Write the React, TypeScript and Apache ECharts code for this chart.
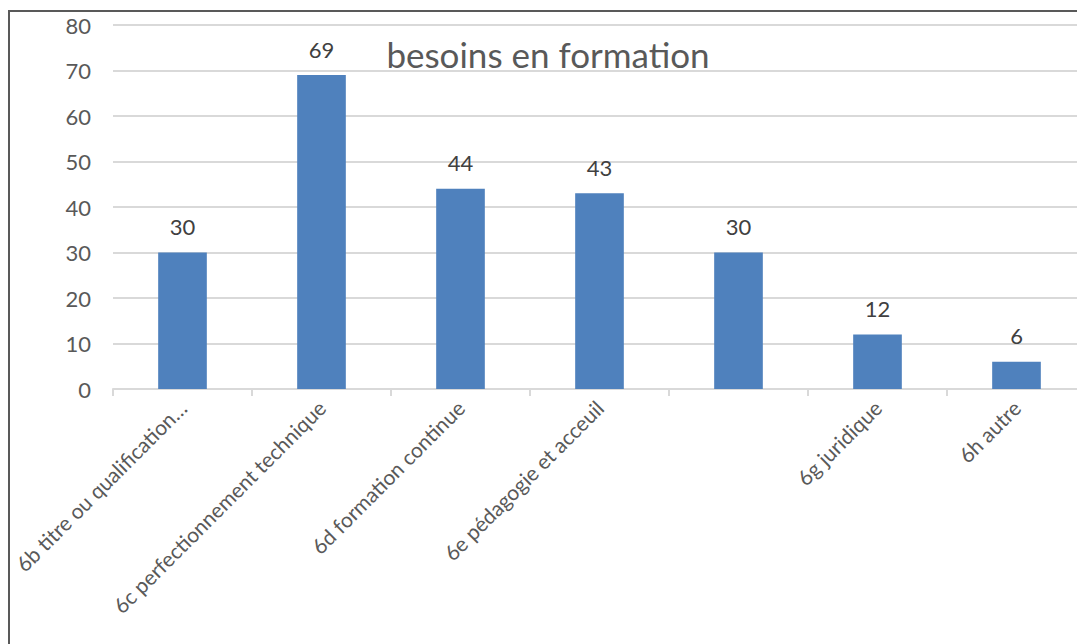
import React, { useEffect, useRef } from "react";
import * as echarts from "echarts";

const titleText = "besoins en formation";
const categories = [
  "6b titre ou qualification…",
  "6c perfectionnement technique",
  "6d formation continue",
  "6e pédagogie et acceuil",
  "",
  "6g juridique",
  "6h autre",
];
const values = [30, 69, 44, 43, 30, 12, 6];
const yTicks = { min: 0, max: 80, interval: 10 };

const FONT = "Lato, 'Noto Sans', sans-serif";

export default function App() {
  const ref = useRef<HTMLDivElement>(null);
  useEffect(() => {
    document.body.style.overflow = "hidden";
    const chart = echarts.init(ref.current!, null, { renderer: "svg" });
    chart.setOption({
      animation: false,
      textStyle: { fontFamily: FONT },
      graphic: [
        {
          type: "text",
          x: 538,
          y: 42,
          style: {
            text: titleText,
            fontFamily: FONT,
            fontSize: 35,
            fill: "#595959",
            align: "center",
            verticalAlign: "middle",
          },
          z: 100,
        },
      ],
      grid: {
        left: 103,
        top: 13,
        right: 24,
        bottom: 283,
        containLabel: false,
        outerBoundsMode: "none",
      },
      xAxis: {
        type: "category",
        data: categories,
        axisLine: { lineStyle: { color: "#d9d9d9", width: 2 } },
        axisTick: { show: true, length: 7, lineStyle: { color: "#d9d9d9", width: 2 } },
        axisLabel: {
          rotate: 45,
          interval: 0,
          margin: 15,
          fontSize: 21,
          color: "#595959",
          fontFamily: FONT,
        },
      },
      yAxis: {
        type: "value",
        min: yTicks.min,
        max: yTicks.max,
        interval: yTicks.interval,
        axisLine: { show: false },
        axisTick: { show: false },
        splitLine: { lineStyle: { color: "#d9d9d9", width: 2 } },
        axisLabel: { fontSize: 22, color: "#595959", margin: 22, fontFamily: FONT },
      },
      series: [
        {
          type: "bar",
          data: values,
          barWidth: "35%",
          itemStyle: { color: "#4f81bd" },
          label: {
            show: true,
            position: "top",
            distance: 15,
            fontSize: 22,
            color: "#404040",
            fontFamily: FONT,
          },
        },
      ],
    });
    return () => chart.dispose();
  }, []);
  return (
    <div
      style={{
        position: "absolute",
        left: 8,
        top: 10,
        width: 1100,
        height: 660,
        borderLeft: "2px solid #595959",
        borderTop: "2px solid #595959",
        background: "#fff",
      }}
    >
      <div ref={ref} style={{ width: 1100, height: 660 }} />
    </div>
  );
}
